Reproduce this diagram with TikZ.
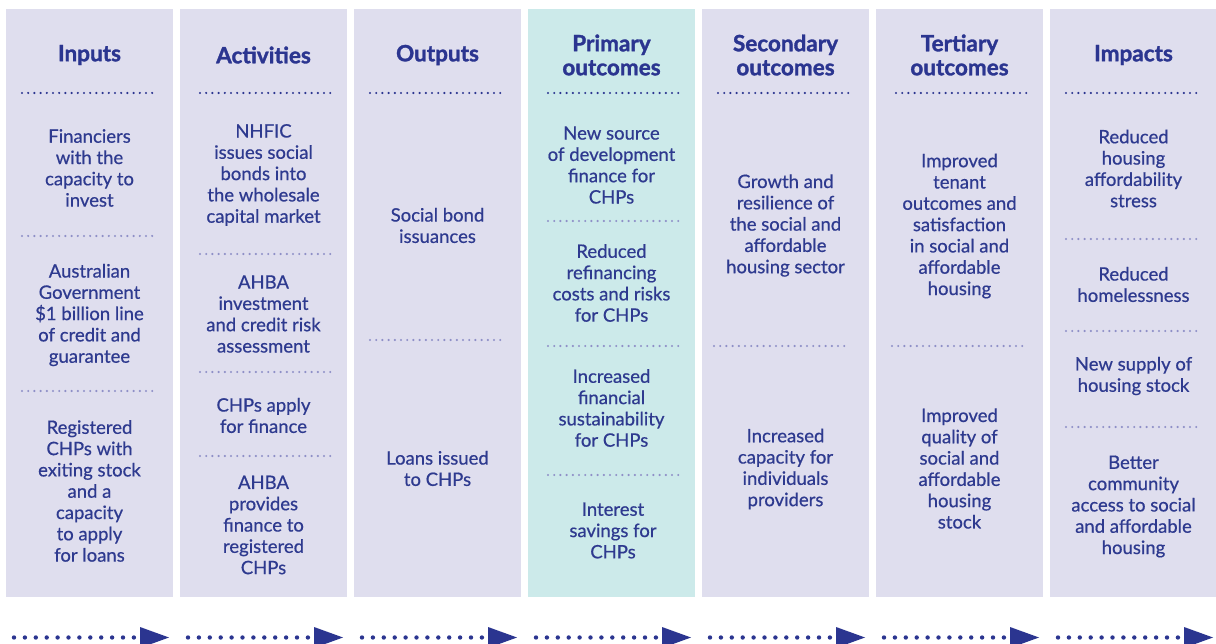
\documentclass[tikz,border=0pt]{standalone}
\usepackage{fontspec}
\setmainfont{Lato}[UprightFeatures={FakeBold=0.6}, BoldFeatures={FakeBold=1.4}]
\definecolor{navy}{HTML}{2B3590}
\definecolor{txt}{HTML}{2E3A8F}
\definecolor{lav}{HTML}{DFDEEE}
\definecolor{teal}{HTML}{CCEAEA}
\definecolor{sepdot}{HTML}{8E8FC7}
\tikzset{
  colbox/.style={draw=none, anchor=north west, minimum width=167pt, minimum height=588pt, inner sep=0pt},
  body/.style={text=txt, align=center, inner sep=0pt, font=\fontsize{18.5}{21.3}\selectfont},
  head/.style={text=navy, align=center, inner sep=0pt, font=\fontsize{22.5}{24}\selectfont\bfseries},
  hdots/.style={draw=navy, line width=2.4pt, line cap=round, dash pattern=on 0pt off 6.2pt},
  sdots/.style={draw=sepdot, line width=2.4pt, line cap=round, dash pattern=on 0pt off 6.2pt},
  adots/.style={draw=navy, line width=4.4pt, line cap=round, dash pattern=on 0pt off 10.9pt},
  tip/.style={fill=navy, draw=none}
}
\begin{document}
\begin{tikzpicture}[x=1pt,y=-1pt]
\useasboundingbox (0,0) rectangle (1216,644);
\clip (0,0) rectangle (1216,644);
\fill[white] (0,0) rectangle (1216,644);

% columns
\node[colbox, fill=lav]  (c1) at (6,9) {};
\node[colbox, fill=lav]  (c2) at (180,9) {};
\node[colbox, fill=lav]  (c3) at (354,9) {};
\node[colbox, fill=teal] (c4) at (528,9) {};
\node[colbox, fill=lav]  (c5) at (702,9) {};
\node[colbox, fill=lav]  (c6) at (876,9) {};
\node[colbox, fill=lav]  (c7) at (1050,9) {};

% headings
\node[head] (h1) at (89.5,55) {Inputs};
\node[head] (h2) at (263.5,55) {Activities};
\node[head] (h3) at (437.5,55) {Outputs};
\node[head] (h4) at (611.5,55) {Primary\\outcomes};
\node[head] (h5) at (785.5,55) {Secondary\\outcomes};
\node[head] (h6) at (959.5,55) {Tertiary\\outcomes};
\node[head] (h7) at (1133.5,55) {Impacts};

% header dotted lines
\draw[hdots] (22,93) -- (158,93);
\draw[hdots] (200,93) -- (336,93);
\draw[hdots] (370,93) -- (506,93);
\draw[hdots] (548,93) -- (684,93);
\draw[hdots] (718,93) -- (854,93);
\draw[hdots] (896,93) -- (1032,93);
\draw[hdots] (1066,93) -- (1202,93);

% column 1
\node[body] (t11) at (89.5,168) {Financiers\\with the\\capacity to\\invest};
\draw[sdots] (22,236) -- (158,236);
\node[body] (t12) at (89.5,315) {Australian\\Government\\\$1 billion line\\of credit and\\guarantee};
\draw[sdots] (22,391) -- (158,391);
\node[body] (t13) at (89.5,491) {Registered\\CHPs with\\exiting stock\\and a\\capacity\\to apply\\for loans};

% column 2
\node[body] (t21) at (263.5,175) {NHFIC\\issues social\\bonds into\\the wholesale\\capital market};
\draw[sdots] (200,254) -- (336,254);
\node[body] (t22) at (263.5,314) {AHBA\\investment\\and credit risk\\assessment};
\draw[sdots] (200,372) -- (336,372);
\node[body] (t23) at (263.5,415.5) {CHPs apply\\for finance};
\draw[sdots] (200,456) -- (336,456);
\node[body] (t24) at (263.5,525) {AHBA\\provides\\finance to\\registered\\CHPs};

% column 3
\node[body] (t31) at (437.5,225.5) {Social bond\\issuances};
\draw[sdots] (370,340) -- (506,340);
\node[body] (t32) at (437.5,468.5) {Loans issued\\to CHPs};

% column 4
\node[body] (t41) at (611.5,165) {New source\\of development\\finance for\\CHPs};
\draw[sdots] (548,221) -- (684,221);
\node[body] (t42) at (611.5,283) {Reduced\\refinancing\\costs and risks\\for CHPs};
\draw[sdots] (548,346) -- (684,346);
\node[body] (t43) at (611.5,408) {Increased\\financial\\sustainability\\for CHPs};
\draw[sdots] (548,475) -- (684,475);
\node[body] (t44) at (613,530.5) {Interest\\savings for\\CHPs};

% column 5
\node[body] (t51) at (785.5,225.5) {Growth and\\resilience of\\the social and\\affordable\\housing sector};
\draw[sdots] (714,346) -- (850,346);
\node[body] (t52) at (785.5,469) {Increased\\capacity for\\individuals\\providers};

% column 6
\node[body] (t61) at (959.5,226) {Improved\\tenant\\outcomes and\\satisfaction\\in social and\\affordable\\housing};
\draw[sdots] (892,346) -- (1028,346);
\node[body] (t62) at (959.5,468.5) {Improved\\quality of\\social and\\affordable\\housing\\stock};

% column 7
\node[body] (t71) at (1133.5,168.5) {Reduced\\housing\\affordability\\stress};
\draw[sdots] (1066,239) -- (1202,239);
\node[body] (t72) at (1133.5,284.5) {Reduced\\homelessness};
\draw[sdots] (1066,331) -- (1202,331);
\node[body] (t73) at (1133.5,376) {New supply of\\housing stock};
\draw[sdots] (1066,427) -- (1202,427);
\node[body] (t74) at (1133.5,506.5) {Better\\community\\access to social\\and affordable\\housing};

% bottom arrows
\foreach \i/\x in {1/6,2/180,3/354,4/528,5/702,6/876,7/1050}{
  \coordinate (as\i) at (\x+8,637.5);
  \coordinate (ae\i) at (\x+128,637.5);
  \draw[adots] (as\i) -- (ae\i);
  \fill[tip] (\x+134,627) -- (\x+163,637.5) -- (\x+134,648) -- cycle;
}
\end{tikzpicture}
\end{document}
